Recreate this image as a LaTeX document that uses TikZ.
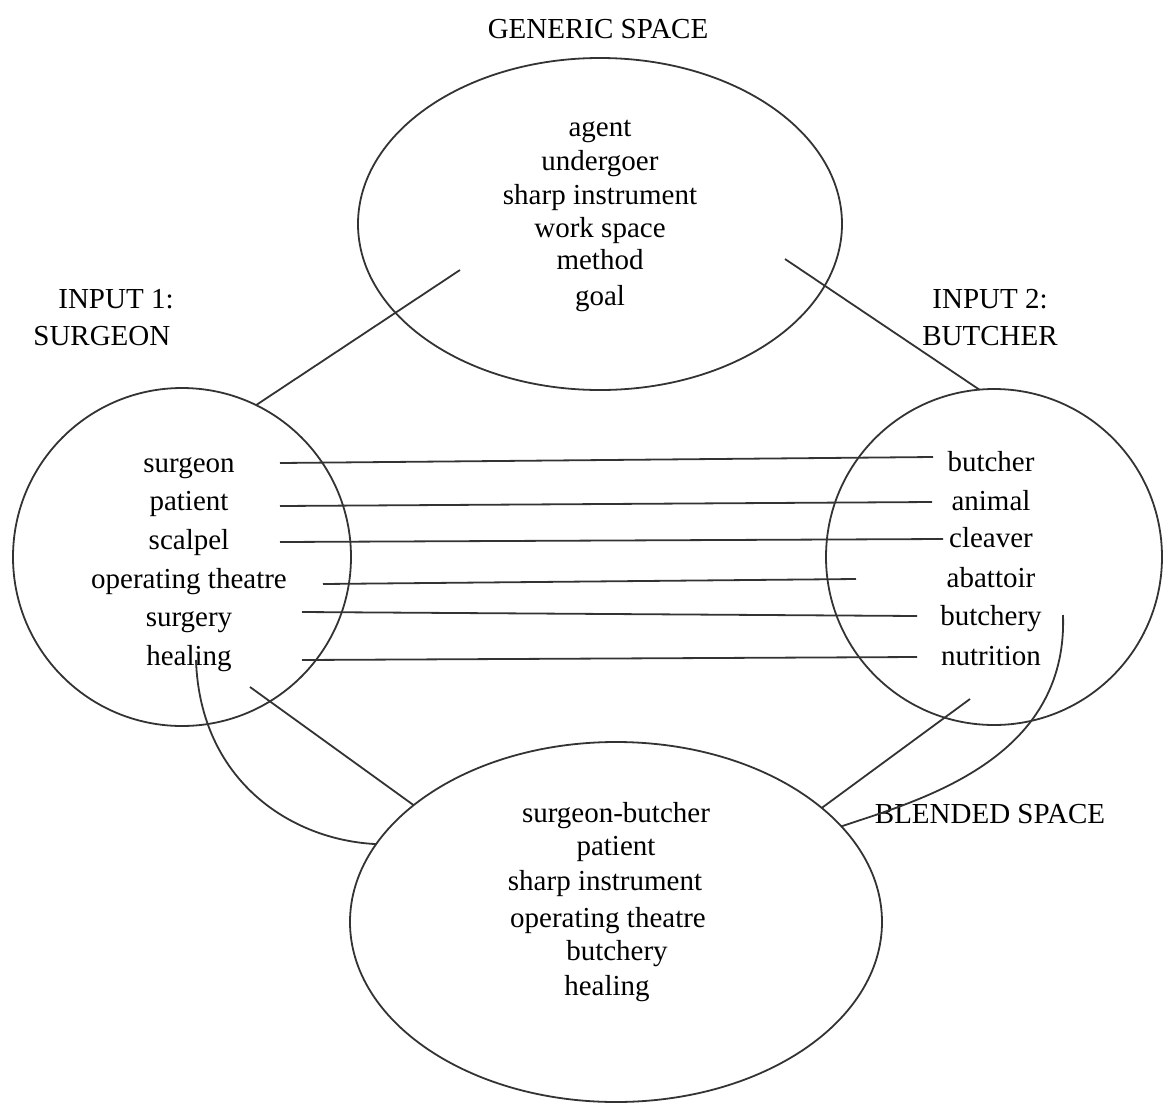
\documentclass[tikz,border=0pt]{standalone}
\usepackage{fontspec}
\setmainfont{Liberation Serif}
\usetikzlibrary{shapes.geometric}
\begin{document}
\begin{tikzpicture}[x=0.5pt,y=-0.5pt,
  space/.style={ellipse, draw=black!80, line width=0.9pt, inner sep=0pt, outer sep=0pt},
  item/.style={font=\fontsize{14.5}{17}\selectfont, inner sep=0pt, anchor=base},
  link/.style={draw=black!80, line width=0.9pt}]
\useasboundingbox (0,0) rectangle (1164,1109);

% the four mental spaces
\node[space, minimum width=242pt, minimum height=166pt] (gen)   at (600,224) {};
\node[space, minimum width=169pt, minimum height=169pt] (in1)   at (182,557) {};
\node[space, minimum width=168pt, minimum height=168pt] (in2)   at (994,557) {};
\node[space, minimum width=266pt, minimum height=180pt] (blend) at (616,922) {};

% titles
\node[item] (tgen) at (598,38) {GENERIC SPACE};
\node[item, anchor=base west] (tin1a) at (58,308) {INPUT 1:};
\node[item, anchor=base west] (tin1b) at (33,345) {SURGEON};
\node[item] (tin2a) at (990,308) {INPUT 2:};
\node[item] (tin2b) at (990,345) {BUTCHER};
\node[item] (tblend) at (990,823) {BLENDED SPACE};

% generic space contents
\node[item] (g1) at (600,136) {agent};
\node[item] (g2) at (600,170) {undergoer};
\node[item] (g3) at (600,204) {sharp instrument};
\node[item] (g4) at (600,237) {work space};
\node[item] (g5) at (600,269) {method};
\node[item] (g6) at (600,305) {goal};

% input 1 contents
\node[item] (s1) at (189,472) {surgeon};
\node[item] (s2) at (189,510) {patient};
\node[item] (s3) at (189,549) {scalpel};
\node[item] (s4) at (189,588) {operating theatre};
\node[item] (s5) at (189,626) {surgery};
\node[item] (s6) at (189,665) {healing};

% input 2 contents
\node[item] (b1) at (991,471) {butcher};
\node[item] (b2) at (991,510) {animal};
\node[item] (b3) at (991,547) {cleaver};
\node[item] (b4) at (991,587) {abattoir};
\node[item] (b5) at (991,625) {butchery};
\node[item] (b6) at (991,665) {nutrition};

% blended space contents
\node[item] (m1) at (616,822) {surgeon-butcher};
\node[item] (m2) at (616,855) {patient};
\node[item] (m3) at (605,890) {sharp instrument};
\node[item] (m4) at (608,927) {operating theatre};
\node[item] (m5) at (617,960) {butchery};
\node[item] (m6) at (607,995) {healing};

% cross-space mappings between the inputs
\coordinate (l1) at (280,463); \coordinate (r1) at (933,457);
\coordinate (l2) at (280,506); \coordinate (r2) at (932,502);
\coordinate (l3) at (280,542); \coordinate (r3) at (943,539);
\coordinate (l4) at (323,584); \coordinate (r4) at (856,579);
\coordinate (l5) at (302,612); \coordinate (r5) at (917,616);
\coordinate (l6) at (302,660); \coordinate (r6) at (917,657);
\foreach \k in {1,...,6} \draw[link] (l\k) -- (r\k);

% projections between spaces
\coordinate (pg1) at (460,270);
\coordinate (pg2) at (785,259);
\coordinate (pi1) at (250,687);
\coordinate (pi2) at (970,699);
\coordinate (ci1) at (196,660);
\coordinate (ci2) at (1063,615);
\draw[link] (pg1) -- (in1.64.6);
\draw[link] (pg2) -- (in2.95.5);
\draw[link] (pi1) -- (blend.150.1);
\draw[link] (pi2) -- (blend.29.05);
\draw[link] (ci1) .. controls (200,780) and (290,840) .. (blend.162.9);
\draw[link] (ci2) .. controls (1068,760) and (920,800) .. (blend.23.3);
\end{tikzpicture}
\end{document}
